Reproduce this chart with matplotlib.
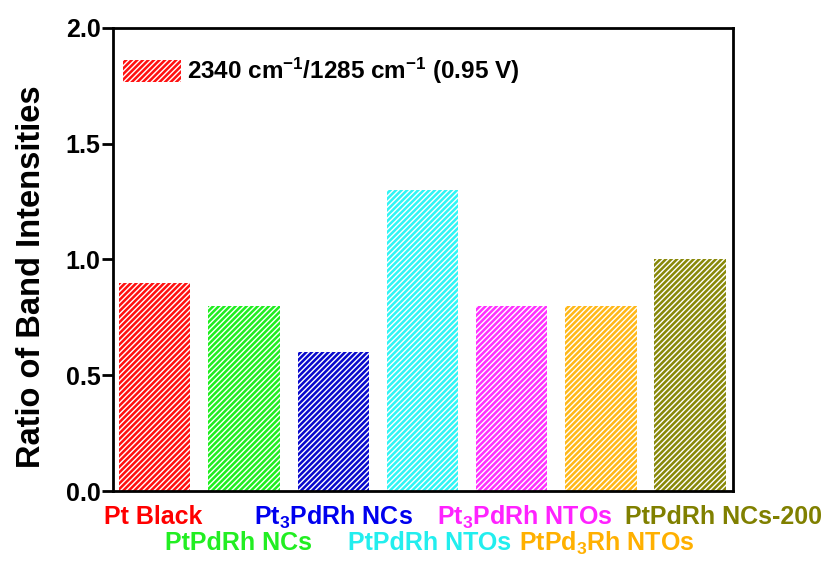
import numpy as np
import matplotlib
matplotlib.use('Agg')
import matplotlib.pyplot as plt

plt.rcParams['font.family'] = ['Liberation Sans', 'DejaVu Sans']
plt.rcParams['font.weight'] = 'bold'
plt.rcParams['axes.labelweight'] = 'bold'
plt.rcParams['mathtext.fontset'] = 'custom'
plt.rcParams['mathtext.rm'] = 'Liberation Sans:bold'
plt.rcParams['mathtext.it'] = 'Liberation Sans:bold'
plt.rcParams['mathtext.bf'] = 'Liberation Sans:bold'
plt.rcParams['hatch.linewidth'] = 1.0

# data
samples = ['Pt Black', 'PtPdRh NCs', r'Pt$_3$PdRh NCs', 'PtPdRh NTOs',
           r'Pt$_3$PdRh NTOs', r'PtPd$_3$Rh NTOs', 'PtPdRh NCs-200']
ratios = [0.9, 0.8, 0.6, 1.3, 0.8, 0.8, 1.0]
bar_colors = ['#ff1010', '#1eee1e', '#0808cc', '#30f5f5', '#ff30ff', '#ffb818', '#888808']
label_colors = ['#ff0000', '#22ee22', '#0000ee', '#22eeee', '#ff22ff', '#ffb000', '#808000']
legend_label = r'2340 cm$^{-1}$/1285 cm$^{-1}$ (0.95 V)'

fig = plt.figure(figsize=(8.3, 5.62), dpi=100)
ax = fig.add_axes([0.136, 0.1263, 0.747, 0.824])

x = np.arange(len(samples))
bars = ax.bar(x, ratios, width=0.8, color=bar_colors, edgecolor='white',
              linewidth=0, hatch='//////')
bars[0].set_label(legend_label)

ax.set_xlim(-0.47, 6.48)
ax.set_ylim(0, 2.0)
ax.set_yticks([0.0, 0.5, 1.0, 1.5, 2.0])
ax.set_yticklabels(['0.0', '0.5', '1.0', '1.5', '2.0'])
ax.set_xticks([])
ax.tick_params(axis='y', direction='out', length=8, width=2, labelsize=18, pad=1)
for s in ax.spines.values():
    s.set_linewidth(2)

ax.set_ylabel('Ratio of Band Intensities', fontsize=23.5)
ax.yaxis.set_label_coords(-0.106, 0.462)

# staggered colored category labels (nudged sideways so they don't collide)
nudge = [-1.5, -4, 0, 5, 9.5, 4.5, 24]
for i, (name, c) in enumerate(zip(samples, label_colors)):
    off = -19 if i % 2 == 0 else -37.5
    ax.annotate(name, xy=(x[i], 0), xycoords=('data', 'axes fraction'),
                xytext=(nudge[i], off), textcoords='offset points',
                ha='center', va='center', fontsize=18, color=c)

leg = ax.legend(loc='upper left', frameon=False, fontsize=17.5,
                handlelength=2.4, handleheight=1.0, handletextpad=0.25,
                borderaxespad=0.0, bbox_to_anchor=(0.0, 0.96))

fig.savefig('out.png', dpi=100)
